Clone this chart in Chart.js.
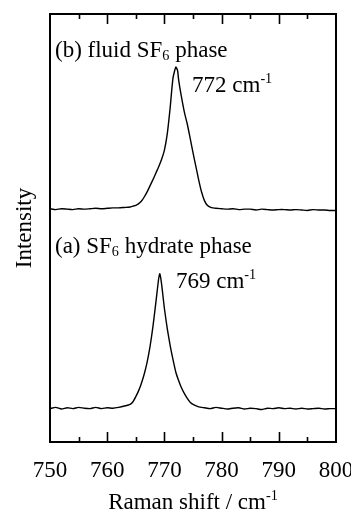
<!DOCTYPE html>
<html><head><meta charset="utf-8">
<script src="https://cdn.jsdelivr.net/npm/chart.js@4/dist/chart.umd.min.js"></script>
<style>html,body{margin:0;padding:0;background:#fff;}canvas{display:block;}</style>
</head><body>
<canvas id="c" width="351" height="512"></canvas>
<script>
// (a) SF6 hydrate phase
const shiftA = [750,751,752,753,754,755,756,757,758,759,760,761,762,763,764,764.5,765,765.5,766,766.5,767,767.5,768,768.5,769,769.2,769.5,770,770.5,771,771.5,772,772.5,773,773.5,774,774.5,775,776,777,778,779,780,781,782,783,784,785,786,787,788,789,790,791,792,793,794,795,796,797,798,799,800];
const intensityA = [7.8,8.1,7.7,8.0,7.8,8.1,7.9,7.8,8.1,7.8,8.0,7.9,8.1,8.4,8.8,9.4,10.6,12.0,13.8,16.0,18.8,22.4,27.0,32.5,38.2,39.3,37.0,31.2,26.5,22.6,19.3,16.3,14.3,12.6,11.3,10.2,9.3,8.8,8.2,8.0,7.8,8.1,7.9,7.7,7.9,8.0,7.7,7.9,7.8,7.6,7.9,7.8,8.0,7.8,7.9,7.7,7.9,7.7,7.8,7.9,7.7,7.8,7.8];
// (b) fluid SF6 phase
const shiftB = [750,751,752,753,754,755,756,757,758,759,760,761,762,763,764,764.5,765,765.5,766,766.5,767,767.5,768,768.5,769,769.5,770,770.5,771,771.5,772,772.3,772.5,773,773.5,774,774.5,775,775.5,776,776.5,777,777.5,778,778.5,779,780,781,782,783,784,785,786,787,788,789,790,791,792,793,794,795,796,797,798,799,800];
const intensityB = [54.5,54.3,54.5,54.4,54.3,54.5,54.4,54.5,54.6,54.5,54.6,54.7,54.7,54.8,54.9,55.1,55.3,55.7,56.3,57.3,58.5,59.9,61.3,62.8,64.3,66.0,68.2,72.0,78.0,85.0,87.6,86.8,84.5,80.5,77.0,74.3,71.0,67.6,64.4,61.2,58.4,56.4,55.3,54.9,54.7,54.6,54.5,54.4,54.5,54.3,54.4,54.4,54.2,54.4,54.3,54.2,54.3,54.3,54.2,54.3,54.2,54.1,54.3,54.2,54.2,54.1,54.1];
const xTickValues = [750,760,770,780,790,800];
const xTitleParts = [{t:'Raman shift / cm'},{t:'-1',sup:true}];
const yTitle = 'Intensity';
const labelB = [{t:'(b) fluid SF'},{t:'6',sub:true},{t:' phase'}];
const peakB = [{t:'772 cm'},{t:'-1',sup:true}];
const labelA = [{t:'(a) SF'},{t:'6',sub:true},{t:' hydrate phase'}];
const peakA = [{t:'769 cm'},{t:'-1',sup:true}];

const FONT = '"Liberation Serif", "Times New Roman", serif';
const FS = 23;

function drawRich(ctx, parts, x, y, size, align) {
  let total = 0;
  const items = parts.map(p => {
    let fs = size, dy = 0;
    if (p.sup) { fs = size * 0.62; dy = -size * 0.4; }
    if (p.sub) { fs = size * 0.62; dy = size * 0.15; }
    ctx.font = fs + 'px ' + FONT;
    const w = ctx.measureText(p.t).width;
    total += w;
    return {t: p.t, fs, dy, w};
  });
  let cx = align === 'center' ? x - total / 2 : x;
  ctx.textAlign = 'left';
  ctx.textBaseline = 'alphabetic';
  for (const it of items) {
    ctx.font = it.fs + 'px ' + FONT;
    ctx.fillText(it.t, cx, y + it.dy);
    cx += it.w;
  }
}

const framePlugin = {
  id: 'frame',
  afterDraw(chart) {
    const {ctx, chartArea: a, scales} = chart;
    const xs = scales.x, ys = scales.y;
    ctx.save();
    ctx.strokeStyle = '#000';
    ctx.lineWidth = 2;
    ctx.strokeRect(a.left, a.top, a.right - a.left, a.bottom - a.top);
    ctx.lineWidth = 1.6;
    for (let v = xs.min + 5; v < xs.max; v += 5) {
      const px = Math.round(xs.getPixelForValue(v)) + 0.5;
      const len = (v % 10 === 0) ? 10 : 5;
      ctx.beginPath();
      ctx.moveTo(px, a.bottom); ctx.lineTo(px, a.bottom - len);
      ctx.moveTo(px, a.top); ctx.lineTo(px, a.top + len);
      ctx.stroke();
    }
    ctx.fillStyle = '#000';
    const ann = [
      [labelB, 750.87, 89.95], [peakB, 774.83, 81.78],
      [labelA, 750.87, 44.16], [peakA, 772.03, 35.98]
    ];
    for (const [parts, xv, yv] of ann) {
      drawRich(ctx, parts, xs.getPixelForValue(xv), ys.getPixelForValue(yv), FS, 'left');
    }
    drawRich(ctx, xTitleParts, (a.left + a.right) / 2, 509, FS, 'center');
    ctx.restore();
  }
};

const toPts = (xsArr, ysArr) => xsArr.map((x, i) => ({x, y: ysArr[i]}));

new Chart(document.getElementById('c'), {
  type: 'line',
  data: {
    datasets: [
      {data: toPts(shiftB, intensityB), borderColor: '#000', borderWidth: 1.4, pointRadius: 0, tension: 0.2, fill: false},
      {data: toPts(shiftA, intensityA), borderColor: '#000', borderWidth: 1.4, pointRadius: 0, tension: 0.2, fill: false}
    ]
  },
  options: {
    responsive: false,
    devicePixelRatio: 1,
    animation: false,
    layout: {padding: {top: 14, right: 15, left: 0, bottom: 0}},
    plugins: {legend: {display: false}, tooltip: {enabled: false}},
    scales: {
      x: {
        type: 'linear', min: 750, max: 800,
        afterBuildTicks(s) { s.ticks = xTickValues.map(v => ({value: v})); },
        afterFit(s) { s.height = 70; s.paddingLeft = 0; s.paddingRight = 0; },
        grid: {display: false, drawTicks: false},
        border: {display: false},
        ticks: {color: '#000', font: {family: FONT, size: FS}, padding: 15, maxRotation: 0, autoSkip: false, callback: v => String(v)}
      },
      y: {
        min: 0, max: 100,
        afterFit(s) { s.width = 50; s.paddingTop = 0; s.paddingBottom = 0; },
        grid: {display: false, drawTicks: false},
        border: {display: false},
        ticks: {display: false},
        title: {display: true, text: yTitle, color: '#000', font: {family: FONT, size: FS}, padding: {top: 11, bottom: 0}}
      }
    }
  },
  plugins: [framePlugin]
});
</script>
</body></html>
